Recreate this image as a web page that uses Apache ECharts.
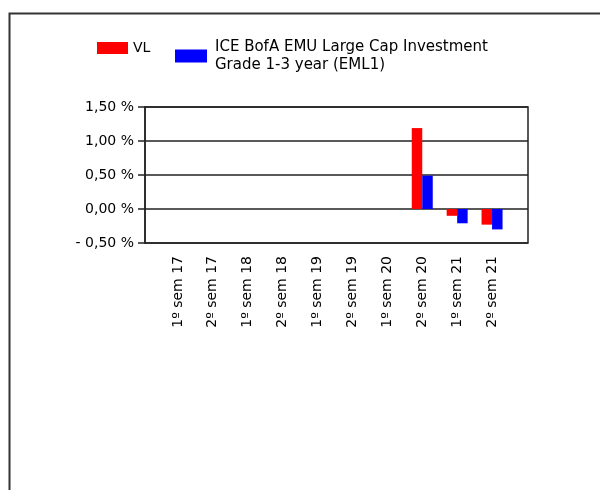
<!DOCTYPE html>
<html>
<head>
<meta charset="utf-8">
<script src="https://cdn.jsdelivr.net/npm/echarts@6/dist/echarts.min.js"></script>
<style>
html,body{margin:0;padding:0;background:#fff;}
#chart{width:600px;height:490px;}
</style>
</head>
<body>
<div id="chart"></div>
<script>
const categories = ['1º sem 17', '2º sem 17', '1º sem 18', '2º sem 18', '1º sem 19', '2º sem 19', '1º sem 20', '2º sem 20', '1º sem 21', '2º sem 21'];
const seriesNames = ['VL', 'ICE BofA EMU Large Cap Investment\nGrade 1-3 year (EML1)'];
const vlValues = [null, null, null, null, null, null, null, 1.19, -0.10, -0.23];
const benchValues = [null, null, null, null, null, null, null, 0.49, -0.21, -0.30];
const yMin = -0.5, yMax = 1.5, yStep = 0.5;

const FONT = 'DejaVu Sans';
const fmt = v => (v < 0 ? '- ' : '') + Math.abs(v).toFixed(2).replace('.', ',') + ' %';

const chart = echarts.init(document.getElementById('chart'), null, {renderer: 'canvas'});
chart.setOption({
  animation: false,
  backgroundColor: '#fff',
  textStyle: {fontFamily: FONT},
  graphic: [{
    type: 'rect', silent: true,
    shape: {x: 9.5, y: 13.5, width: 620, height: 500},
    style: {fill: 'none', stroke: '#333', lineWidth: 2}
  }],
  legend: [{
    left: 97, top: 41, padding: 0, itemWidth: 31, itemHeight: 12, itemGap: 10,
    icon: 'rect', data: [seriesNames[0]],
    textStyle: {fontFamily: FONT, fontSize: 14, color: '#000'}
  }, {
    left: 175, top: 38, padding: 0, itemWidth: 32, itemHeight: 13, itemGap: 10,
    icon: 'rect', data: [seriesNames[1]],
    textStyle: {fontFamily: FONT, fontSize: 15, color: '#000', lineHeight: 18, padding: [0, 0, 0, 3]}
  }],
  grid: [
    {left: 145, top: 107, width: 383, height: 136, show: true, borderColor: '#222', borderWidth: 1.5, backgroundColor: 'transparent'},
    {left: 160.5, top: 107, width: 349, height: 136}
  ],
  xAxis: [
    {type: 'value', gridIndex: 0, show: false, min: 0, max: 1},
    {type: 'category', gridIndex: 1, data: categories,
     axisLine: {show: false}, axisTick: {show: false}, splitLine: {show: false},
     axisLabel: {rotate: 90, interval: 0, margin: 13, color: '#000', fontFamily: FONT, fontSize: 14}}
  ],
  yAxis: [
    {type: 'value', gridIndex: 0, min: yMin, max: yMax, interval: yStep,
     axisLine: {show: true, lineStyle: {color: '#222', width: 1.5}},
     axisTick: {show: true, length: 7, lineStyle: {color: '#222', width: 1.5}},
     splitLine: {show: true, lineStyle: {color: '#222', width: 1.5}},
     axisLabel: {margin: 11, color: '#000', fontFamily: FONT, fontSize: 14, formatter: fmt}},
    {type: 'value', gridIndex: 1, min: yMin, max: yMax, interval: yStep, show: false,
     splitLine: {show: false}}
  ],
  series: [
    {name: seriesNames[0], type: 'bar', xAxisIndex: 1, yAxisIndex: 1, data: vlValues,
     barWidth: 10.5, barGap: '0%', itemStyle: {color: '#ff0000'}},
    {name: seriesNames[1], type: 'bar', xAxisIndex: 1, yAxisIndex: 1, data: benchValues,
     barWidth: 10.5, barGap: '0%', itemStyle: {color: '#0000ff'}}
  ]
});
</script>
</body>
</html>
